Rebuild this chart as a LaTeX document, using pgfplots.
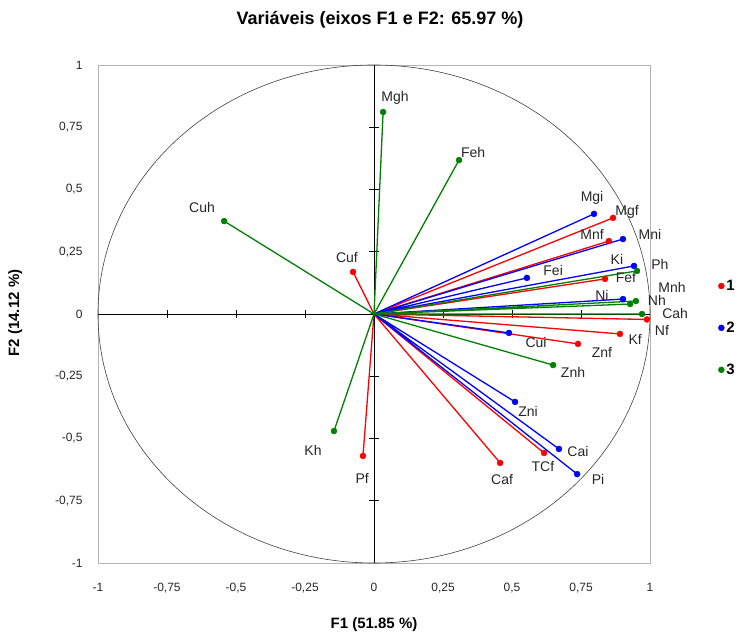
\documentclass[border=0pt]{standalone}
\usepackage{fontspec}
\setmainfont{Liberation Sans}
\usepackage{pgfplots}
\pgfplotsset{compat=1.18}
\definecolor{cred}{RGB}{255,0,0}
\definecolor{cblue}{RGB}{0,0,255}
\definecolor{cgreen}{RGB}{0,128,0}
\begin{document}
\begin{tikzpicture}
\begin{axis}[
  scale only axis, width=552pt, height=498pt,
  xmin=-1, xmax=1, ymin=-1, ymax=1,
  xtick={-1,-0.75,-0.5,-0.25,0,0.25,0.5,0.75,1},
  ytick={-1,-0.75,-0.5,-0.25,0,0.25,0.5,0.75,1},
  major tick length=0pt,
  axis line style={gray!60},
  clip=false,
  ticklabel style={font=\fontsize{12}{14}\selectfont, text=black!85},
  yticklabel style={xshift=-12pt},
  xticklabel style={yshift=-17pt},
  xlabel={F1 (51.85 \%)},
  ylabel={F2 (14.12 \%)},
  every axis x label/.style={at={(axis description cs:0.5,-0.1245)},anchor=center,font=\bfseries\fontsize{15}{17}\selectfont},
  every axis y label/.style={at={(axis description cs:-0.150,0.502)},anchor=center,rotate=90,font=\bfseries\fontsize{15}{17}\selectfont},
  title={Variáveis (eixos F1 e F2: 65.97 \%)},
  every axis title/.style={at={(axis description cs:0.511,1.090)},anchor=center,font=\bfseries\fontsize{18}{20}\selectfont},
  legend style={at={(axis description cs:1.118,0.472)}, anchor=west, draw=none, fill=none,
    font=\bfseries\fontsize{15}{17}\selectfont, row sep=26pt},
  /pgf/number format/use comma,
  /pgf/number format/assume math mode=true,
]
% invisible frame for the picture's extent
\path (rel axis cs:-0.1775,-0.1526) rectangle (rel axis cs:1.1793,1.1305);
% circle and centre cross
\draw[black!75, line width=0.6pt] (axis cs:0,0) ellipse [x radius=1, y radius=1];
\draw[black, line width=0.6pt] (axis cs:-1,0) -- (axis cs:1,0);
\draw[black, line width=0.6pt] (axis cs:0,-1) -- (axis cs:0,1);
\pgfplotsinvokeforeach{-0.75,-0.5,-0.25,0.25,0.5,0.75}{
  \draw[black, line width=0.6pt] ([yshift=-4pt]axis cs:#1,0) -- ([yshift=4pt]axis cs:#1,0);
  \draw[black, line width=0.6pt] ([xshift=-5pt]axis cs:0,#1) -- ([xshift=5pt]axis cs:0,#1);
}
% group 1 lines
\addplot[cred, line width=1.3pt, forget plot] coordinates {
 (0,0) (0.866,0.386) (0,0) (0.851,0.293) (0,0) (0.837,0.141) (0,0) (0.989,-0.022)
 (0,0) (0.891,-0.080) (0,0) (0.739,-0.120) (0,0) (0.616,-0.558) (0,0) (0.457,-0.598)
 (0,0) (-0.040,-0.570) (0,0) (-0.076,0.169) (0,0)};
% group 2 lines
\addplot[cblue, line width=1.3pt, forget plot] coordinates {
 (0,0) (0.797,0.402) (0,0) (0.902,0.301) (0,0) (0.942,0.193) (0,0) (0.554,0.145)
 (0,0) (0.902,0.060) (0,0) (0.489,-0.076) (0,0) (0.511,-0.353) (0,0) (0.670,-0.542)
 (0,0) (0.736,-0.643) (0,0)};
% group 3 lines
\addplot[cgreen, line width=1.3pt, forget plot] coordinates {
 (0,0) (0.033,0.811) (0,0) (0.308,0.618) (0,0) (-0.543,0.373) (0,0) (0.953,0.173)
 (0,0) (0.949,0.052) (0,0) (0.928,0.040) (0,0) (0.971,0.0) (0,0) (0.649,-0.205)
 (0,0) (-0.145,-0.470) (0,0)};
% marks
\addplot[only marks, mark=*, mark size=3pt, cred] coordinates {
 (0.866,0.386) (0.851,0.293) (0.837,0.141) (0.989,-0.022) (0.891,-0.080)
 (0.739,-0.120) (0.616,-0.558) (0.457,-0.598) (-0.040,-0.570) (-0.076,0.169)};
\addplot[only marks, mark=*, mark size=3pt, cblue] coordinates {
 (0.797,0.402) (0.902,0.301) (0.942,0.193) (0.554,0.145) (0.902,0.060)
 (0.489,-0.076) (0.511,-0.353) (0.670,-0.542) (0.736,-0.643)};
\addplot[only marks, mark=*, mark size=3pt, cgreen] coordinates {
 (0.033,0.811) (0.308,0.618) (-0.543,0.373) (0.953,0.173) (0.949,0.052)
 (0.928,0.040) (0.971,0.0) (0.649,-0.205) (-0.145,-0.470)};
\legend{1,2,3}
% labels
\begin{scope}[every node/.style={font=\fontsize{14}{16}\selectfont, text=black!85, inner sep=0pt}]
\node at (axis cs:0.076,0.867) {Mgh};
\node at (axis cs:0.359,0.647) {Feh};
\node at (axis cs:-0.623,0.426) {Cuh};
\node at (axis cs:-0.098,0.225) {Cuf};
\node at (axis cs:0.790,0.466) {Mgi};
\node at (axis cs:0.917,0.410) {Mgf};
\node at (axis cs:0.790,0.321) {Mnf};
\node at (axis cs:1.000,0.321) {Mni};
\node at (axis cs:0.880,0.221) {Ki};
\node at (axis cs:0.649,0.173) {Fei};
\node at (axis cs:0.913,0.145) {Fef};
\node at (axis cs:1.036,0.201) {Ph};
\node at (axis cs:0.826,0.076) {Ni};
\node at (axis cs:1.080,0.108) {Mnh};
\node at (axis cs:1.025,0.056) {Nh};
\node at (axis cs:1.091,0.004) {Cah};
\node at (axis cs:1.043,-0.068) {Nf};
\node at (axis cs:0.946,-0.104) {Kf};
\node at (axis cs:0.587,-0.116) {Cui};
\node at (axis cs:0.826,-0.153) {Znf};
\node at (axis cs:0.721,-0.233) {Znh};
\node at (axis cs:0.558,-0.390) {Zni};
\node at (axis cs:0.739,-0.554) {Cai};
\node at (axis cs:0.612,-0.614) {TCf};
\node at (axis cs:0.464,-0.663) {Caf};
\node at (axis cs:0.812,-0.663) {Pi};
\node at (axis cs:-0.221,-0.546) {Kh};
\node at (axis cs:-0.043,-0.659) {Pf};
\end{scope}
\end{axis}
\end{tikzpicture}
\end{document}
